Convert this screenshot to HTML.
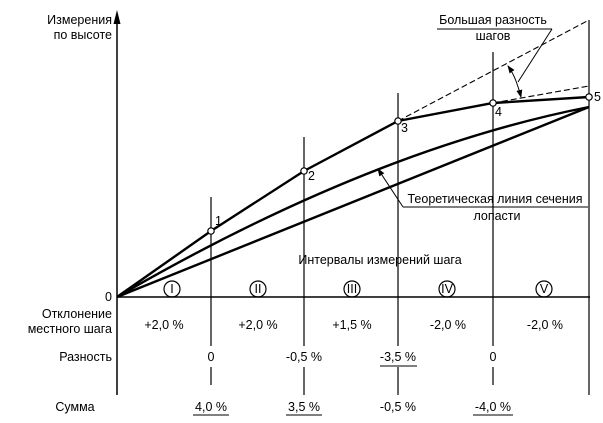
<!DOCTYPE html>
<html><head><meta charset="utf-8"><style>
html,body{margin:0;padding:0;background:#fff}
svg{display:block}
text{font-family:"Liberation Sans",Arial,sans-serif;font-size:12.5px;fill:#000}
</style></head><body>
<svg width="603" height="423" viewBox="0 0 603 423" xmlns="http://www.w3.org/2000/svg">
<defs><marker id="ah" markerWidth="8" markerHeight="8" refX="7" refY="4" orient="auto" markerUnits="userSpaceOnUse"><path d="M0,1 L8,4 L0,7 z" fill="#000"/></marker></defs>
<g stroke="#000" fill="none">
<line x1="117" y1="22" x2="117" y2="395" stroke-width="1.5"/>
<path d="M117,10 L113.5,24 L120.5,24 z" fill="#000" stroke="none"/>
<line x1="117" y1="297" x2="590" y2="297" stroke-width="1.5"/>
<g stroke-width="1.2">
<line x1="211" y1="197" x2="211" y2="346"/><line x1="211" y1="367" x2="211" y2="385"/>
<line x1="304" y1="137" x2="304" y2="346"/><line x1="304" y1="367" x2="304" y2="395"/>
<line x1="398" y1="93" x2="398" y2="346"/><line x1="398" y1="367" x2="398" y2="395"/>
<line x1="493" y1="52" x2="493" y2="346"/><line x1="493" y1="367" x2="493" y2="385"/>
<line x1="589" y1="20" x2="589" y2="395"/>
</g>
<g stroke-width="2.4">
<polyline points="117,297 211,231 304,171 398,121 493,103 589,97"/>
<path d="M117,297 Q370,150 589,107"/>
<line x1="117" y1="297" x2="589" y2="107"/>
</g>
<g stroke-width="1.1" stroke-dasharray="6,3">
<line x1="398" y1="121" x2="589" y2="20"/>
<line x1="493" y1="103" x2="589" y2="86"/>
</g>
<g fill="#fff" stroke-width="1.2">
<circle cx="211" cy="231" r="3.2"/><circle cx="304" cy="171" r="3.2"/><circle cx="398" cy="121" r="3.2"/><circle cx="493" cy="103" r="3.2"/><circle cx="589" cy="97" r="3.2"/>
</g>
<line x1="437" y1="29" x2="552" y2="29" stroke-width="1"/>
<line x1="552" y1="29" x2="518" y2="82" stroke-width="1"/>
<path d="M516,81 Q519,89 521,97" stroke-width="1" marker-end="url(#ah)"/>
<path d="M516,81 Q513,73 508,66" stroke-width="1" marker-end="url(#ah)"/>
<line x1="403" y1="207" x2="588" y2="207" stroke-width="1"/>
<line x1="403" y1="207" x2="378" y2="169" stroke-width="1" marker-end="url(#ah)"/>
<g stroke-width="1.2">
<circle cx="172" cy="289" r="8"/><circle cx="258" cy="289" r="8"/><circle cx="352" cy="289" r="8"/><circle cx="447" cy="289" r="8"/><circle cx="544" cy="289" r="8"/>
</g>
<g stroke-width="1">
<line x1="380" y1="366" x2="417" y2="366"/>
<line x1="193" y1="415" x2="229" y2="415"/>
<line x1="286" y1="415" x2="322" y2="415"/>
<line x1="473" y1="415" x2="513" y2="415"/>
</g>
</g>
<text x="112" y="24" text-anchor="end">Измерения</text>
<text x="112" y="39" text-anchor="end">по высоте</text>
<text x="493" y="24" text-anchor="middle">Большая разность</text>
<text x="493" y="40" text-anchor="middle">шагов</text>
<text x="215" y="225">1</text>
<text x="308" y="180">2</text>
<text x="401" y="132">3</text>
<text x="495" y="116">4</text>
<text x="594" y="101">5</text>
<text x="495" y="203" text-anchor="middle">Теоретическая линия сечения</text>
<text x="497" y="220" text-anchor="middle">лопасти</text>
<text x="380" y="264" text-anchor="middle">Интервалы измерений шага</text>
<g text-anchor="middle" style="font-size:11px">
<text x="172" y="293">I</text><text x="258" y="293">II</text><text x="352" y="293">III</text><text x="447" y="293">IV</text><text x="544" y="293">V</text>
</g>
<text x="112" y="301" text-anchor="end">0</text>
<text x="112" y="318" text-anchor="end">Отклонение</text>
<text x="112" y="333" text-anchor="end">местного шага</text>
<g text-anchor="middle">
<text x="164" y="329">+2,0 %</text><text x="258" y="329">+2,0 %</text><text x="352" y="329">+1,5 %</text><text x="448" y="329">-2,0 %</text><text x="545" y="329">-2,0 %</text>
<text x="211" y="361">0</text><text x="304" y="361">-0,5 %</text><text x="398" y="361">-3,5 %</text><text x="493" y="361">0</text>
<text x="211" y="411">4,0 %</text><text x="304" y="411">3,5 %</text><text x="398" y="411">-0,5 %</text><text x="493" y="411">-4,0 %</text>
</g>
<text x="112" y="361" text-anchor="end">Разность</text>
<text x="75" y="411" text-anchor="middle">Сумма</text>
</svg>
</body></html>
